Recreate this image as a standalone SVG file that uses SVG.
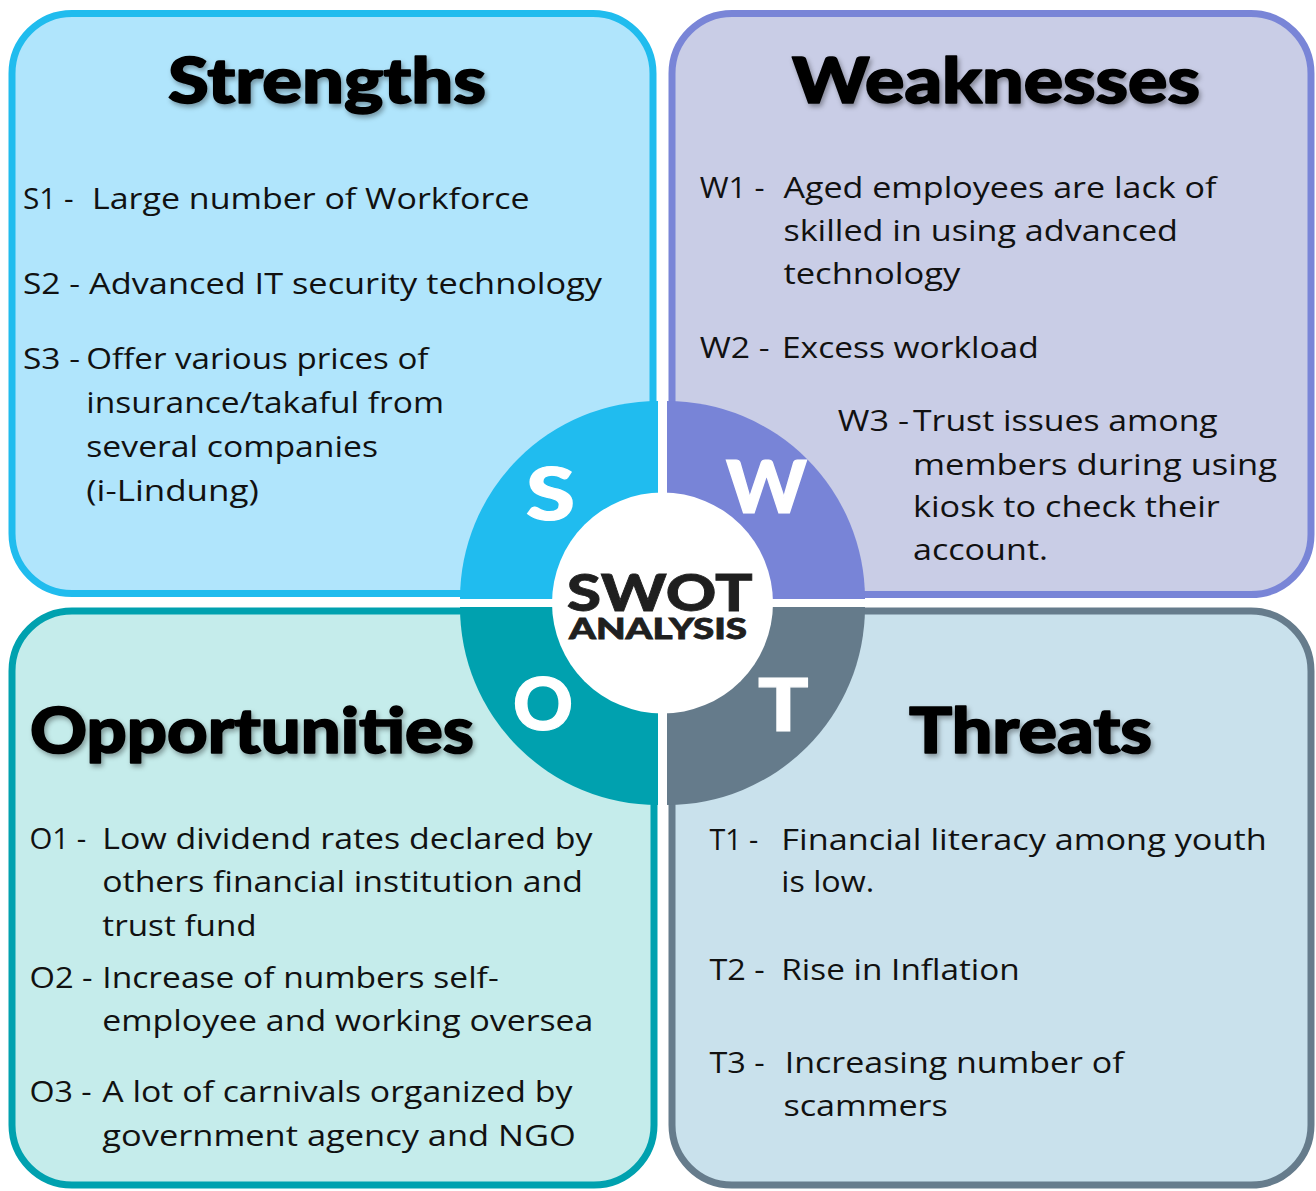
<svg xmlns="http://www.w3.org/2000/svg" width="1316" height="1191" viewBox="0 0 1316 1191">
<defs>
<filter id="shadow" x="-10%" y="-20%" width="120%" height="160%">
<feDropShadow dx="2" dy="3" stdDeviation="2.5" flood-color="#000" flood-opacity="0.35"/>
</filter>
</defs>
<style>
.box{stroke-width:7}
.head{font-family:Lato,Inter,"DejaVu Sans",sans-serif;font-weight:900;font-size:62px;fill:#000;stroke:#000;stroke-width:1.6;stroke-linejoin:round;filter:url(#shadow)}
.body{font-family:"Open Sans","Noto Sans","DejaVu Sans",sans-serif;font-size:29px;fill:#111}
.big{font-family:Lato,Inter,"DejaVu Sans",sans-serif;font-weight:900;font-size:72px;fill:#fff;stroke:#fff;stroke-width:1.2}
.ctr{font-family:Lato,Inter,"DejaVu Sans",sans-serif;font-weight:900;fill:#1f1f1f;stroke:#1f1f1f;stroke-width:0.8}
</style>
<rect width="1316" height="1191" fill="#fff"/>
<g id="strengths">
<rect class="box" x="12" y="13.5" width="641" height="580" rx="60" fill="#B0E5FC" stroke="#20BCEE"/>
</g>
<g id="weaknesses">
<rect class="box" x="672" y="13.5" width="639" height="581" rx="60" fill="#C9CDE6" stroke="#7985D7"/>
</g>
<g id="opportunities">
<rect class="box" x="12" y="611" width="642" height="574" rx="60" fill="#C5ECEB" stroke="#00A1AF"/>
</g>
<g id="threats">
<rect class="box" x="672" y="611" width="639" height="574" rx="60" fill="#C9E1EC" stroke="#667C8C"/>
</g>
<g id="center">
<path d="M658,599 L460,599 A198,198 0 0 1 658,401 Z" fill="#20BCEF"/>
<path d="M667,599 L667,401 A198,198 0 0 1 865,599 Z" fill="#7884D7"/>
<path d="M658,607 L658,805 A198,198 0 0 1 460,607 Z" fill="#00A1AF"/>
<path d="M667,607 L865,607 A198,198 0 0 1 667,805 Z" fill="#657B8B"/>
<circle cx="662.5" cy="603" r="110.5" fill="#fff"/>
<text class="ctr"><tspan x="566.7" y="611" font-size="52" textLength="186" lengthAdjust="spacingAndGlyphs">SWOT</tspan><tspan x="569" y="639" font-size="28" textLength="178" lengthAdjust="spacingAndGlyphs">ANALYSIS</tspan></text>
<text class="big" x="526" y="520" textLength="49" lengthAdjust="spacingAndGlyphs">S</text>
<text class="big" x="726" y="513" textLength="81" lengthAdjust="spacingAndGlyphs">W</text>
<text class="big" x="513" y="730" textLength="60" lengthAdjust="spacingAndGlyphs">O</text>
<text class="big" x="758" y="731" textLength="50.6" lengthAdjust="spacingAndGlyphs">T</text>
</g>
<g id="strengths-text">
<text class="head" x="168" y="103" textLength="318" lengthAdjust="spacingAndGlyphs">Strengths</text>
<text class="body" x="23" y="208.6" textLength="50.7" lengthAdjust="spacingAndGlyphs">S1 -</text>
<text class="body" x="92" y="208.6" textLength="437.7" lengthAdjust="spacingAndGlyphs">Large number of Workforce</text>
<text class="body" x="23" y="294" textLength="57" lengthAdjust="spacingAndGlyphs">S2 -</text>
<text class="body" x="89" y="294" textLength="513" lengthAdjust="spacingAndGlyphs">Advanced IT security technology</text>
<text class="body" x="23" y="369.3" textLength="57" lengthAdjust="spacingAndGlyphs">S3 -</text>
<text class="body" x="86.3" y="369.3" textLength="342.2" lengthAdjust="spacingAndGlyphs">Offer various prices of</text>
<text class="body" x="86.3" y="413.3" textLength="357.7" lengthAdjust="spacingAndGlyphs">insurance/takaful from</text>
<text class="body" x="86.3" y="457.3" textLength="291.7" lengthAdjust="spacingAndGlyphs">several companies</text>
<text class="body" x="86.3" y="501.3" textLength="172.5" lengthAdjust="spacingAndGlyphs">(i-Lindung)</text>
</g>
<g id="weaknesses-text">
<text class="head" x="792" y="103" textLength="408" lengthAdjust="spacingAndGlyphs">Weaknesses</text>
<text class="body" x="699.7" y="198.2" textLength="64.9" lengthAdjust="spacingAndGlyphs">W1 -</text>
<text class="body" x="783.4" y="198.2" textLength="433.1" lengthAdjust="spacingAndGlyphs">Aged employees are lack of</text>
<text class="body" x="783.4" y="241" textLength="394.6" lengthAdjust="spacingAndGlyphs">skilled in using advanced</text>
<text class="body" x="783.4" y="284" textLength="177" lengthAdjust="spacingAndGlyphs">technology</text>
<text class="body" x="699.7" y="357.8" textLength="69.9" lengthAdjust="spacingAndGlyphs">W2 -</text>
<text class="body" x="782" y="357.8" textLength="256.7" lengthAdjust="spacingAndGlyphs">Excess workload</text>
<text class="body" x="837.8" y="430.5" textLength="71.2" lengthAdjust="spacingAndGlyphs">W3 -</text>
<text class="body" x="913" y="430.5" textLength="304.7" lengthAdjust="spacingAndGlyphs">Trust issues among</text>
<text class="body" x="913" y="474.5" textLength="364" lengthAdjust="spacingAndGlyphs">members during using</text>
<text class="body" x="913" y="516.6" textLength="306.8" lengthAdjust="spacingAndGlyphs">kiosk to check their</text>
<text class="body" x="913" y="559.5" textLength="135" lengthAdjust="spacingAndGlyphs">account.</text>
</g>
<g id="opportunities-text">
<text class="head" x="30" y="753" textLength="444" lengthAdjust="spacingAndGlyphs">Opportunities</text>
<text class="body" x="29.5" y="848.8" textLength="56.8" lengthAdjust="spacingAndGlyphs">O1 -</text>
<text class="body" x="102.3" y="848.8" textLength="490.3" lengthAdjust="spacingAndGlyphs">Low dividend rates declared by</text>
<text class="body" x="102.3" y="892" textLength="480.7" lengthAdjust="spacingAndGlyphs">others financial institution and</text>
<text class="body" x="102.3" y="935.5" textLength="154.4" lengthAdjust="spacingAndGlyphs">trust fund</text>
<text class="body" x="29.5" y="987.5" textLength="63.1" lengthAdjust="spacingAndGlyphs">O2 -</text>
<text class="body" x="102.3" y="987.5" textLength="396.4" lengthAdjust="spacingAndGlyphs">Increase of numbers self-</text>
<text class="body" x="102.3" y="1030.5" textLength="491.1" lengthAdjust="spacingAndGlyphs">employee and working oversea</text>
<text class="body" x="29.5" y="1102" textLength="62.2" lengthAdjust="spacingAndGlyphs">O3 -</text>
<text class="body" x="102.3" y="1102" textLength="470.1" lengthAdjust="spacingAndGlyphs">A lot of carnivals organized by</text>
<text class="body" x="102.3" y="1145.8" textLength="473.5" lengthAdjust="spacingAndGlyphs">government agency and NGO</text>
</g>
<g id="threats-text">
<text class="head" x="909" y="753" textLength="243" lengthAdjust="spacingAndGlyphs">Threats</text>
<text class="body" x="709.4" y="849.5" textLength="48.9" lengthAdjust="spacingAndGlyphs">T1 -</text>
<text class="body" x="781.3" y="849.5" textLength="485.4" lengthAdjust="spacingAndGlyphs">Financial literacy among youth</text>
<text class="body" x="781.3" y="892" textLength="92.9" lengthAdjust="spacingAndGlyphs">is low.</text>
<text class="body" x="709.4" y="980" textLength="55.2" lengthAdjust="spacingAndGlyphs">T2 -</text>
<text class="body" x="781.3" y="980" textLength="238.5" lengthAdjust="spacingAndGlyphs">Rise in Inflation</text>
<text class="body" x="709.4" y="1073" textLength="55.2" lengthAdjust="spacingAndGlyphs">T3 -</text>
<text class="body" x="784.7" y="1073" textLength="338.9" lengthAdjust="spacingAndGlyphs">Increasing number of</text>
<text class="body" x="783.4" y="1116.4" textLength="164.5" lengthAdjust="spacingAndGlyphs">scammers</text>
</g>
<g id="connectors"/>
</svg>
